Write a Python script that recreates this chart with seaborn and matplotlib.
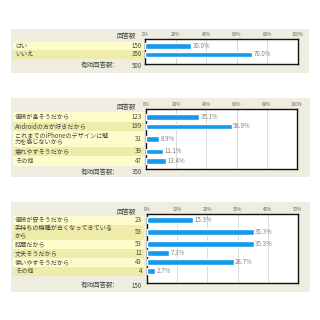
import matplotlib
matplotlib.use("Agg")
import matplotlib.pyplot as plt
from matplotlib.patches import Rectangle
import numpy as np
import pandas as pd
import seaborn as sns

sns.set_theme(style="white")
plt.rcParams['font.family'] = ['Noto Sans CJK JP', 'DejaVu Sans']

# ---------------- data ----------------
labels1 = ["はい", "いいえ"]
counts1 = [150, 350]
pct1 = [30.0, 70.0]
total1 = 500
ticks1 = [0, 20, 40, 60, 80, 100]

labels2 = ["値段が高そうだから", "Androidの方が好きだから",
           "これまでのiPhoneのデザインに魅\n力を感じないから",
           "壊れやすそうだから", "その他"]
counts2 = [123, 199, 31, 39, 47]
pct2 = [35.1, 56.9, 8.9, 11.1, 13.4]
total2 = 350
ticks2 = [0, 20, 40, 60, 80, 100]

labels3 = ["値段が安そうだから", "手持ちの機種が古くなってきている\nから",
           "話題だから", "丈夫そうだから", "使いやすそうだから", "その他"]
counts3 = [23, 53, 53, 11, 43, 4]
pct3 = [15.3, 35.3, 35.3, 7.3, 28.7, 2.7]
total3 = 150
ticks3 = [0, 10, 20, 30, 40, 50]

header_text = "回答数"
footer_text = "有効回答数:"

# ---------------- style / layout (pixels) ----------------
W = H = 320
BG = "#efeddf"
STRIPE_LIGHT = "#fdfcca"
STRIPE_DARK = "#efeba9"
BAR = "#1499ee"
TXT = "#444444"
FS = 4.4

panels = [
    dict(labels=labels1, counts=counts1, pct=pct1, total=total1, ticks=ticks1,
         bg=(11, 29, 309, 73), header_y=36, rows_top=41.5, s=8.5,
         ax=(145, 39, 298, 64), footer_y=65.5),
    dict(labels=labels2, counts=counts2, pct=pct2, total=total2, ticks=ticks2,
         bg=(11, 98, 310, 177), header_y=107.5, rows_top=112, s=9.5,
         ax=(146, 109, 297, 169), footer_y=172),
    dict(labels=labels3, counts=counts3, pct=pct3, total=total3, ticks=ticks3,
         bg=(11, 202, 310, 292), header_y=212, rows_top=215.5, s=9,
         ax=(147, 214, 298, 283), footer_y=285.5),
]

fig = plt.figure(figsize=(W / 100, H / 100), dpi=100)
fig.patch.set_facecolor("white")
bgax = fig.add_axes([0, 0, 1, 1], zorder=0)
bgax.set_xlim(0, W)
bgax.set_ylim(H, 0)
bgax.axis("off")

for p in panels:
    x0, y0, x1, y1 = p["bg"]
    bgax.add_patch(Rectangle((x0, y0), x1 - x0, y1 - y0, color=BG, lw=0))
    # rows
    top = p["rows_top"]
    centers = []
    for i, (lab, cnt) in enumerate(zip(p["labels"], p["counts"])):
        nlines = lab.count("\n") + 1
        h = p["s"] + (nlines - 1) * 6.0
        bgax.add_patch(Rectangle((13, top), 131, h,
                                 color=STRIPE_LIGHT if i % 2 == 0 else STRIPE_DARK, lw=0))
        c = top + h / 2
        centers.append(c)
        bgax.text(15, c, lab, fontsize=FS, color=TXT, va="center", ha="left",
                  linespacing=0.95)
        bgax.text(142, c, str(cnt), fontsize=FS, color=TXT, va="center", ha="right")
        top += h
    bgax.text(136, p["header_y"], header_text, fontsize=FS + 0.3, color=TXT,
              va="center", ha="right")
    bgax.text(115, p["footer_y"], footer_text, fontsize=FS + 0.3, color=TXT,
              va="center", ha="right")
    bgax.text(142, p["footer_y"], str(p["total"]), fontsize=FS, color=TXT,
              va="center", ha="right")

    # bar axes
    ax0, ay0, ax1, ay1 = p["ax"]
    ax = fig.add_axes([ax0 / W, 1 - ay1 / H, (ax1 - ax0) / W, (ay1 - ay0) / H], zorder=2)
    df = pd.DataFrame({"pct": p["pct"], "ypos": centers})
    sns.barplot(data=df, x="pct", y="ypos", orient="y", native_scale=True,
                width=5.5 / p["s"], color=BAR, saturation=1, ax=ax, zorder=3)
    ax.set_ylim(ay1, ay0)
    ax.set_xlim(p["ticks"][0], p["ticks"][-1])
    ax.set_facecolor("white")
    ax.set_yticks([])
    ax.set_ylabel("")
    ax.set_xlabel("")
    ax.xaxis.tick_top()
    ax.set_xticks(p["ticks"])
    ax.set_xticklabels([f"{t}%" for t in p["ticks"]])
    ax.tick_params(axis="x", length=0, pad=1.5, labelsize=3.3, labelcolor="#666666")
    ax.grid(axis="x", color="#d4d4d4", lw=0.6)
    ax.set_axisbelow(True)
    for sp in ax.spines.values():
        sp.set_visible(True)
        sp.set_color("#111111")
        sp.set_linewidth(1.0)
    ax.bar_label(ax.containers[0], labels=[f"{v:.1f}%" for v in p["pct"]],
                 padding=1, fontsize=FS, color="#808080")

fig.savefig("out.png", dpi=100, facecolor="white")
